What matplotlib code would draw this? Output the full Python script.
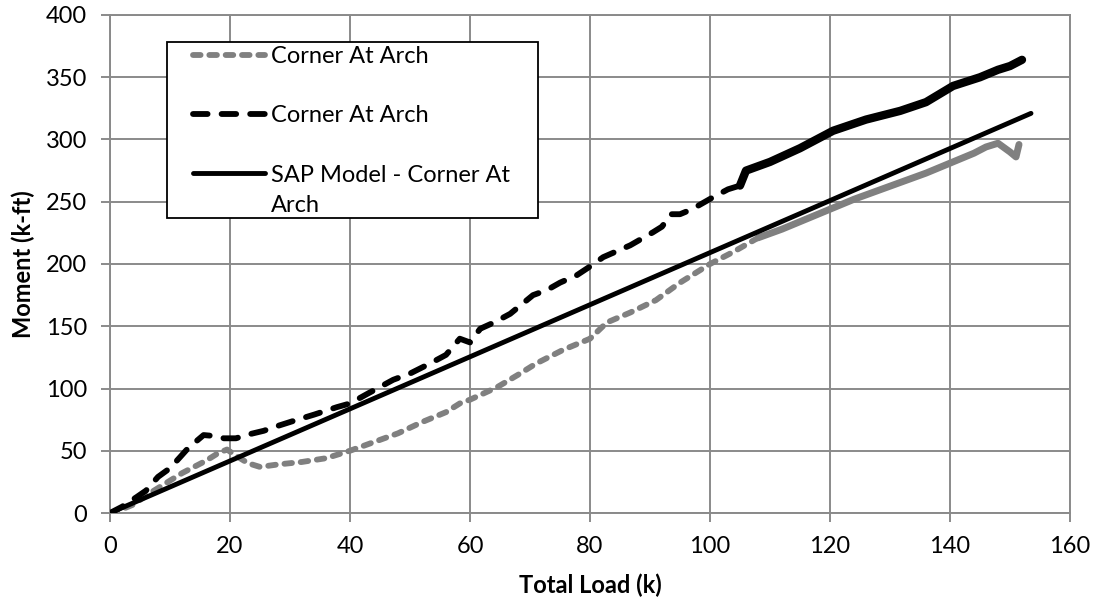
import matplotlib.pyplot as plt
from matplotlib.patches import Rectangle
import numpy as np

plt.rcParams['font.family'] = ['Lato', 'DejaVu Sans']

# Corner At Arch - first test (grey)
load_1 = [0, 2, 4, 6, 8, 10, 12, 14, 16, 18, 19.5, 21, 23, 25, 28, 32, 36, 40,
          44, 48, 52, 56, 58.3, 60, 64.5, 68, 71, 75.5, 80, 82.8, 86.7, 91, 95,
          100, 104, 108, 112, 116, 120, 124, 128, 132, 136, 140, 144, 146, 148,
          150, 151, 151.5]
moment_1 = [0, 3, 7, 14, 20, 26, 32, 37, 42, 48, 51, 46, 40, 37, 39, 41, 44, 50,
            57, 64, 73, 81, 88, 91, 101, 111, 120, 131, 140, 153, 161, 171, 185,
            200, 210, 221, 228, 236, 244, 252, 259, 266, 273, 281, 289, 294, 297,
            290, 286, 296]

# Corner At Arch - second test (black)
load_2 = [0, 2, 4.5, 6, 8, 10, 11.7, 13, 15.6, 17, 19, 21, 23, 25.6, 28, 31, 34,
          37.8, 40, 43, 47.2, 50, 53.3, 56, 58.3, 60, 61.7, 64, 66.7, 70.5, 72.8,
          75, 77.8, 80, 82.2, 86.7, 90.5, 92, 93.5, 95, 97, 100.5, 103, 105, 106,
          110, 115, 120.5, 126, 131.7, 136, 140.5, 145, 148, 150, 152]
moment_2 = [0, 5, 13, 18, 29, 36, 45, 52, 62.6, 62, 60, 60, 63, 66, 70, 74.6, 79,
            85, 88, 96, 107, 112, 120, 127, 140, 137, 148, 153, 160, 175, 179,
            185, 191, 198, 205.5, 215, 225.5, 230, 240, 240, 244, 253.6, 260, 263,
            275, 282, 293, 307, 316, 323, 330, 343, 350, 356, 359, 364]

# SAP model
load_sap = [0, 153.5]
moment_sap = [0, 321]

W, H = 1104, 607
fig = plt.figure(figsize=(W / 100, H / 100), dpi=100)
ax = fig.add_axes([110 / W, 1 - 513 / H, 960 / W, 498 / H])

grid_c = '#8a8a8a'
fs = 17

l1 = np.array(load_1)
m1 = np.array(moment_1)
l2 = np.array(load_2)
m2 = np.array(moment_2)

# dashed parts; the dense noisy tails look solid in the original
k1 = l1 <= 110
ax.plot(l1[k1], m1[k1], color='#808080', lw=4.2, dashes=(1.3, 1.5),
        dash_capstyle='round', label='Corner At Arch', zorder=2)
ax.plot(l1[l1 >= 108], m1[l1 >= 108], color='#808080', lw=5.0,
        solid_capstyle='round', zorder=2)
k2 = l2 <= 106
ax.plot(l2[k2], m2[k2], color='black', lw=4.2, dashes=(2.5, 2.4),
        dash_capstyle='round', label='Corner At Arch', zorder=3)
ax.plot(l2[l2 >= 105], m2[l2 >= 105], color='black', lw=6.0,
        solid_capstyle='round', zorder=3)
ax.plot(load_sap, moment_sap, color='black', lw=3.5, solid_capstyle='round',
        label='SAP Model - Corner At', zorder=3)

ax.set_xlim(0, 160)
ax.set_ylim(0, 400)
ax.set_xticks(np.arange(0, 161, 20))
ax.set_yticks(np.arange(0, 401, 50))
ax.grid(True, color=grid_c, lw=1.4)
ax.set_axisbelow(True)
for s in ax.spines.values():
    s.set_color(grid_c)
    s.set_linewidth(1.4)
ax.tick_params(direction='out', length=6.5, width=1.4, color=grid_c,
               labelsize=fs, pad=10)

ax.set_xlabel('Total Load (k)', fontsize=fs, fontweight='bold', labelpad=12)
ax.set_ylabel('Moment (k-ft)', fontsize=fs, fontweight='bold', labelpad=8)

# legend frame drawn as a box, legend itself without frame
box = Rectangle((57 / 960, 295 / 498), 371 / 960, 176 / 498,
                transform=ax.transAxes, facecolor='white', edgecolor='black',
                lw=1.3, zorder=4)
ax.add_patch(box)
leg = ax.legend(loc='upper left', bbox_to_anchor=(83 / 960, 467 / 498),
                fontsize=fs, frameon=False, handlelength=3.05,
                handletextpad=0.25, labelspacing=1.62, borderpad=0,
                borderaxespad=0)
leg.set_zorder(5)

# second line of the SAP label sits under the first one
fig.canvas.draw()
t3 = leg.get_texts()[2]
x_d, y_d = t3.get_transform().transform(t3.get_position())
fig.text(x_d / W, (y_d - 30) / H, 'Arch', fontsize=fs, ha='left',
         va='baseline', zorder=6)

fig.savefig('out.png', dpi=100)
